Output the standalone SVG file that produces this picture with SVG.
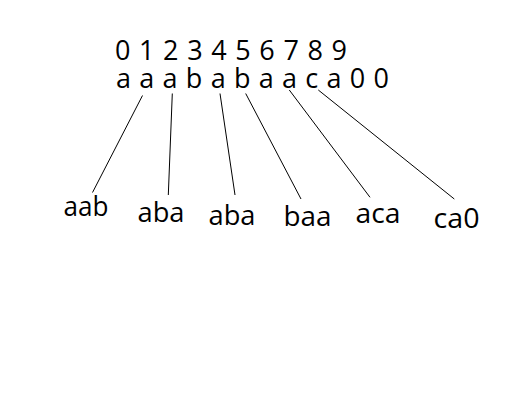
<svg xmlns="http://www.w3.org/2000/svg" width="508" height="408" viewBox="0 0 508 408">
<style>
text { font-family: "Open Sans", "Noto Sans", "Liberation Sans", sans-serif; font-size: 27px; fill: #000; }
.c line { stroke: #000; stroke-width: 1; }
</style>
<rect width="508" height="408" fill="#fff"/>
<g id="sequence"><text><tspan x="115" y="60" textLength="232" lengthAdjust="spacing">0 1 2 3 4 5 6 7 8 9</tspan><tspan x="116" y="88" textLength="273" lengthAdjust="spacing">a a a b a b a a c a 0 0</tspan></text></g>
<g id="connectors" class="c">
<line x1="142.5" y1="95.5" x2="92.5" y2="192.5"/>
<line x1="172.3" y1="93.5" x2="168.3" y2="195"/>
<line x1="220" y1="93.5" x2="235" y2="195"/>
<line x1="245.7" y1="93.5" x2="301" y2="199"/>
<line x1="289.3" y1="90" x2="370" y2="197.3"/>
<line x1="318.3" y1="90" x2="454.3" y2="199"/>
</g>
<g id="n-aab"><text x="63.5" y="216" textLength="45" lengthAdjust="spacingAndGlyphs">aab</text></g>
<g id="n-aba1"><text x="137.5" y="222" textLength="47" lengthAdjust="spacingAndGlyphs">aba</text></g>
<g id="n-aba2"><text x="208.5" y="225" textLength="47" lengthAdjust="spacingAndGlyphs">aba</text></g>
<g id="n-baa"><text x="283.5" y="226" textLength="48" lengthAdjust="spacingAndGlyphs">baa</text></g>
<g id="n-aca"><text x="355.5" y="222.5" textLength="45" lengthAdjust="spacingAndGlyphs">aca</text></g>
<g id="n-ca0"><text x="433.5" y="228" textLength="46" lengthAdjust="spacingAndGlyphs">ca0</text></g>
</svg>
